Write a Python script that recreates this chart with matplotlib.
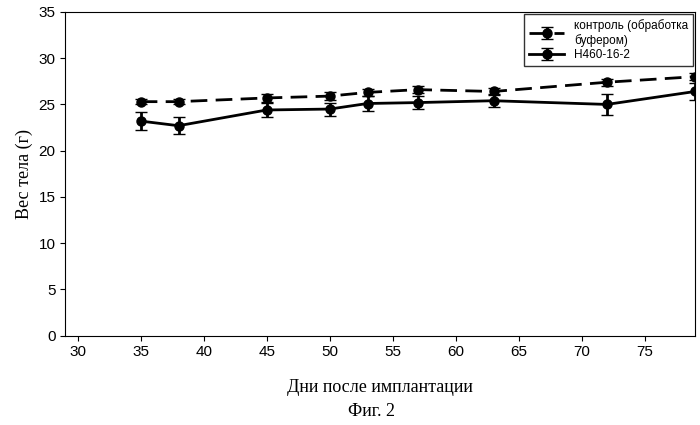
import matplotlib
matplotlib.use("Agg")
import matplotlib.pyplot as plt

days = [35, 38, 45, 50, 53, 57, 63, 72, 79]
control = [25.3, 25.3, 25.7, 25.9, 26.3, 26.6, 26.4, 27.4, 28.0]
control_err = [0.3, 0.3, 0.4, 0.4, 0.4, 0.4, 0.4, 0.4, 0.4]
h460 = [23.2, 22.7, 24.4, 24.5, 25.1, 25.2, 25.4, 25.0, 26.4]
h460_err = [1.0, 0.9, 0.8, 0.7, 0.8, 0.7, 0.7, 1.1, 0.9]

plt.rcParams["font.family"] = "Liberation Serif"
fig = plt.figure(figsize=(7, 4.25), dpi=100)
ax = fig.add_axes([0.093, 0.21, 0.9, 0.762])

ax.errorbar(days, control, yerr=control_err, color="black", ls="--", lw=2,
            marker="o", ms=6.5, capsize=4, dashes=(6, 3), label="контроль (обработка\nбуфером)")
ax.errorbar(days, h460, yerr=h460_err, color="black", ls="-", lw=2,
            marker="o", ms=6.5, capsize=4, label="H460-16-2")

ax.set_xlim(29, 79)
ax.set_ylim(0, 35)
ax.set_xticks(range(30, 80, 5))
ax.set_yticks(range(0, 36, 5))
ax.tick_params(labelsize=11)
for lbl in ax.get_xticklabels() + ax.get_yticklabels():
    lbl.set_fontfamily("Liberation Sans")
ax.set_ylabel("Вес тела (г)", fontsize=13)
ax.set_xlabel("Дни после имплантации", fontsize=13, labelpad=14)
leg = ax.legend(loc="upper right", fontsize=8.5, frameon=True, fancybox=False,
                edgecolor="black", borderaxespad=0.2, handlelength=3,
                labelspacing=0.2)
for t in leg.get_texts():
    t.set_fontfamily("Liberation Sans")
fig.text(0.53, 0.022, "Фиг. 2", ha="center", fontsize=13)

fig.savefig("out.png")
